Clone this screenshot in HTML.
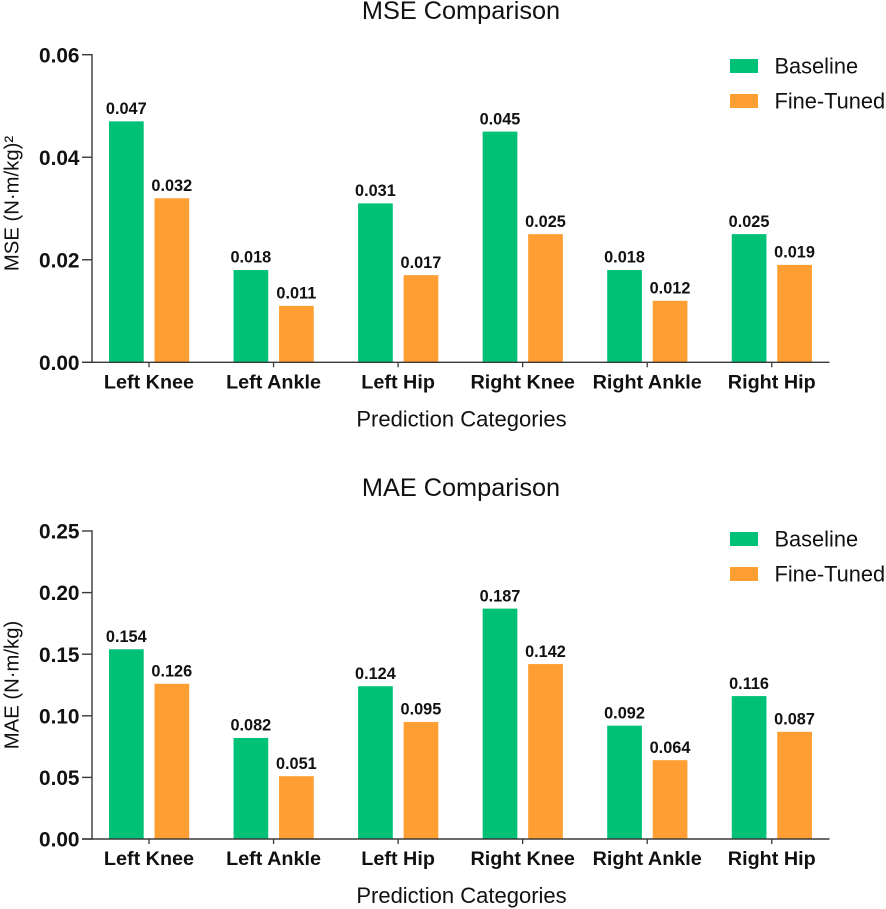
<!DOCTYPE html>
<html>
<head>
<meta charset="utf-8">
<style>
html,body{margin:0;padding:0;background:#fff;}
svg{display:block;}
text{font-family:"Liberation Sans",Arial,sans-serif;fill:#111;}
</style>
</head>
<body>
<svg id="figure" width="886" height="909" viewBox="0 0 886 909" xmlns="http://www.w3.org/2000/svg"></svg>
<script>
const categories = ["Left Knee","Left Ankle","Left Hip","Right Knee","Right Ankle","Right Hip"];
const mseBaseline = [0.047,0.018,0.031,0.045,0.018,0.025];
const mseFineTuned = [0.032,0.011,0.017,0.025,0.012,0.019];
const maeBaseline = [0.154,0.082,0.124,0.187,0.092,0.116];
const maeFineTuned = [0.126,0.051,0.095,0.142,0.064,0.087];
const mseTicks = [0,0.02,0.04,0.06];
const maeTicks = [0,0.05,0.10,0.15,0.20,0.25];
const seriesNames = ["Baseline","Fine-Tuned"];

const NS = "http://www.w3.org/2000/svg";
const svg = document.getElementById("figure");
const COLORS = ["#00c176","#ff9f33"];
const AXIS = "#3a3a3a";

function make(tag, attrs, parent, txt){
  const el = document.createElementNS(NS, tag);
  for (const k in attrs) el.setAttribute(k, attrs[k]);
  if (txt !== undefined) el.textContent = txt;
  parent.appendChild(el);
  return el;
}

function drawPanel(cfg){
  const g = make("g", {}, svg);
  
  
  const yScale = v => cfg.y0 - (v / cfg.yMax) * (cfg.y0 - cfg.yTop);
  const xScale = i => 149 + i * 124.55;

  const title = make("text", {x:461, y:cfg.titleY, "text-anchor":"middle", "font-size":25.3}, g, cfg.title);
  
  

  const yTitle = make("text", {transform:"translate(18.5,"+cfg.yTitleC+") rotate(-90)", "text-anchor":"middle", "font-size":cfg.yTitleSize}, g, cfg.yLabel);
  
  

  const xTitle = make("text", {x:461.5, y:cfg.y0 + 64, "text-anchor":"middle", "font-size":22}, g, "Prediction Categories");
  
  

  // bars
  categories.forEach((c, i) => {
    [cfg.base, cfg.tuned].forEach((series, s) => {
      const v = series[i];
      const left = xScale(i) + (s === 0 ? -40 : 5.5);
      const bar = make("rect", {x:left, y:yScale(v), width:34.7, height:cfg.y0 - yScale(v), fill:COLORS[s]}, g);
      
      
      const lab = make("text", {x:left + 17.3, y:yScale(v) - 7.3, "text-anchor":"middle", "font-size":16.3, "font-weight":"bold"}, g, v.toFixed(3));
      
      
    });
    const tick = make("line", {x1:xScale(i), x2:xScale(i), y1:cfg.y0, y2:cfg.y0 + 5, stroke:AXIS, "stroke-width":1.3}, g);
    
    
    const catLab = make("text", {x:xScale(i), y:cfg.y0 + 26, "text-anchor":"middle", "font-size":19.8, "font-weight":"bold"}, g, c);
    
    
  });

  // axes
  const yAxis = make("line", {x1:92, x2:92, y1:cfg.yTop - 0.7, y2:cfg.y0 + 0.7, stroke:AXIS, "stroke-width":1.4}, g);
  
  
  const xAxis = make("line", {x1:82, x2:829.5, y1:cfg.y0, y2:cfg.y0, stroke:AXIS, "stroke-width":1.4}, g);
  
  

  cfg.ticks.forEach(t => {
    const y = yScale(t);
    const tk = make("line", {x1:82, x2:92, y1:y, y2:y, stroke:AXIS, "stroke-width":1.4}, g);
    
    
    const tl = make("text", {x:79.5, y:y + 7.6, "text-anchor":"end", "font-size":20.8, "font-weight":"bold"}, g, t.toFixed(2));
    
    
  });

  // legend
  seriesNames.forEach((n, s) => {
    const ly = cfg.legendY + s * 35;
    const sw = make("rect", {x:730, y:ly - 7, width:28, height:14, fill:COLORS[s]}, g);
    
    
    const lt = make("text", {x:774.5, y:ly + 7.5, "font-size":21.8}, g, n);
    
    
  });
}

drawPanel({key:"mse", title:"MSE Comparison", titleY:19, yLabel:"MSE (N\u00B7m/kg)\u00B2", yTitleC:203.5, yTitleSize:20.3,
  y0:362.3, yTop:54.7, yMax:0.06, ticks:mseTicks, base:mseBaseline, tuned:mseFineTuned, legendY:66});
drawPanel({key:"mae", title:"MAE Comparison", titleY:496, yLabel:"MAE (N\u00B7m/kg)", yTitleC:685, yTitleSize:20.3,
  y0:839, yTop:531, yMax:0.25, ticks:maeTicks, base:maeBaseline, tuned:maeFineTuned, legendY:539});
</script>
</body>
</html>
